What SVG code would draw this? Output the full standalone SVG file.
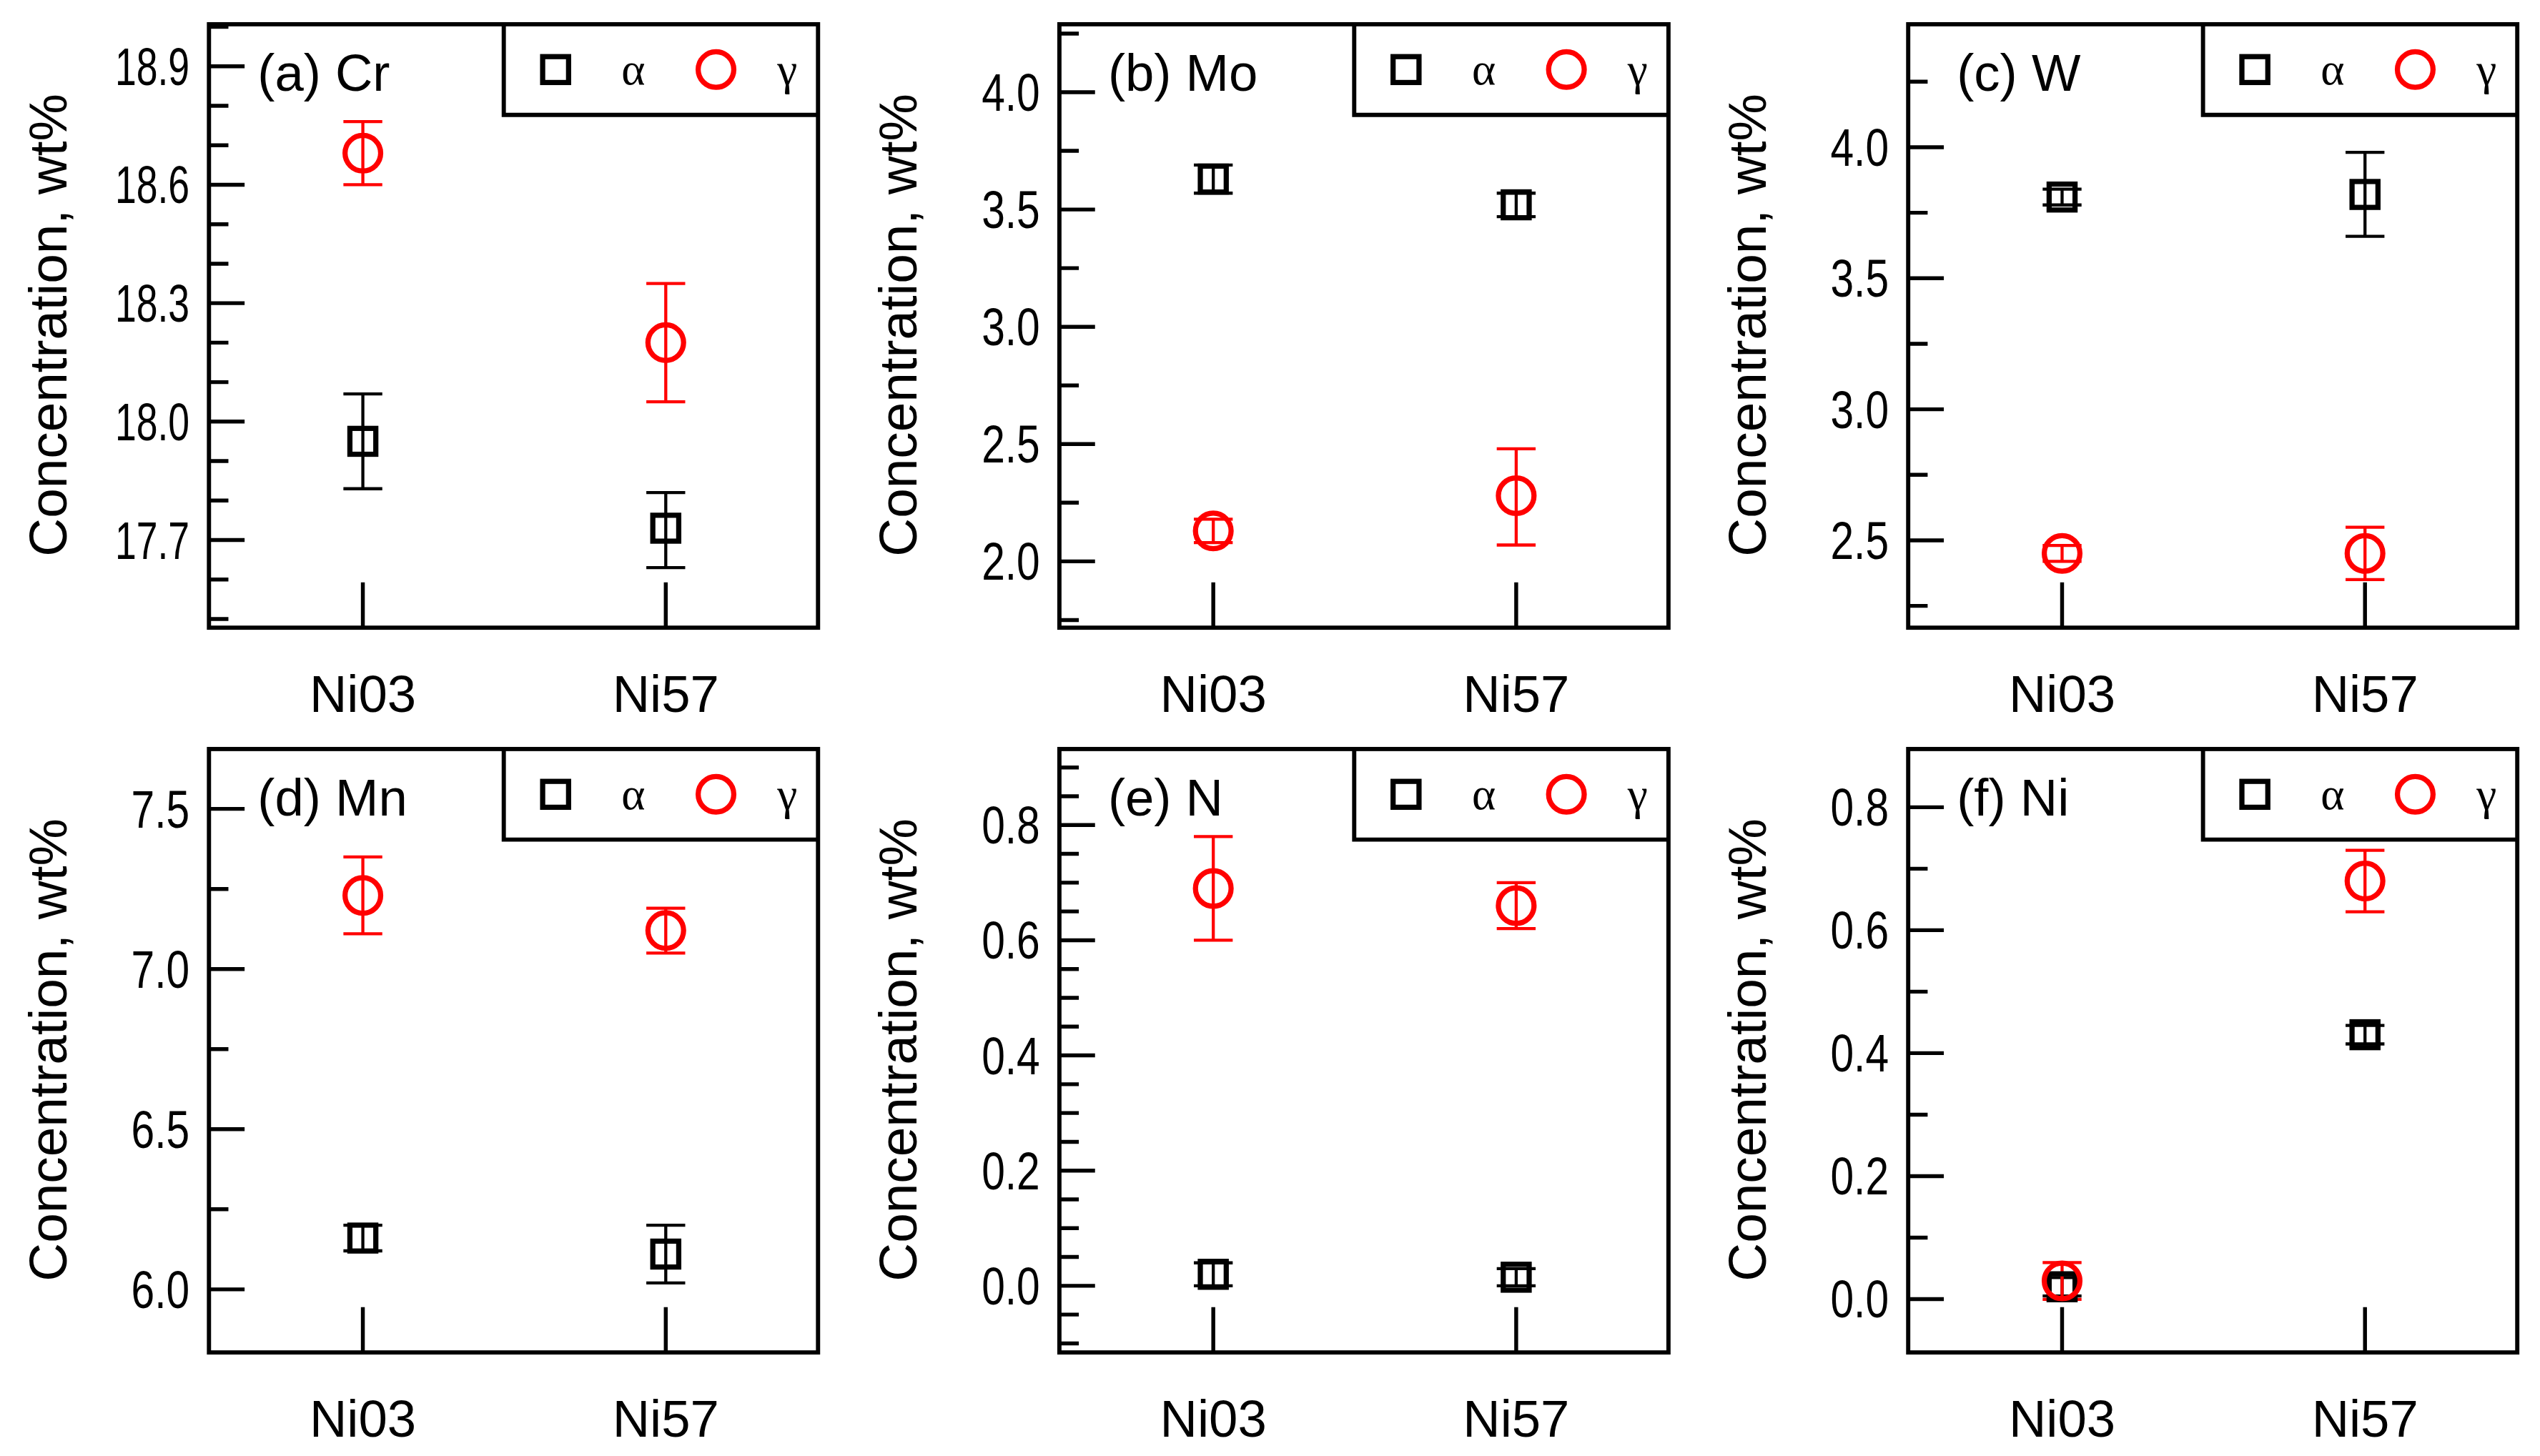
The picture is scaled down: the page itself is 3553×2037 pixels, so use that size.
<svg xmlns="http://www.w3.org/2000/svg" xmlns:xlink="http://www.w3.org/1999/xlink" width="3553" height="2037" viewBox="0 0 3553 2037">
<style>
text{font-family:"Liberation Sans",Arial,sans-serif;fill:#000}
.tl{font-size:33px;text-anchor:end}
.cl{font-size:32px;text-anchor:middle}
.pl{font-size:32px}
.yt{font-size:33px;text-anchor:middle}
.gr{font-family:"Liberation Serif","Times New Roman",serif;font-size:28px;text-anchor:middle}
.fr{fill:none;stroke:#000;stroke-width:2.6}
.tk{stroke:#000;stroke-width:2.4;fill:none}
.eb{stroke:#000;stroke-width:1.9;fill:none}
.ebr{stroke:#f00;stroke-width:1.9;fill:none}
.sq{fill:none;stroke:#000;stroke-width:3.2}
.ci{fill:none;stroke:#f00;stroke-width:3.2}
</style>
<defs>
<rect id="sq" class="sq" x="-8" y="-8" width="16" height="16"/>
<circle id="ci" class="ci" r="11"/>
<g id="frame">
<rect class="fr" x="0" y="0" width="376" height="373"/>
<path class="fr" d="M182 0 V56 H376"/>
<use xlink:href="#sq" x="214" y="28"/>
<text class="gr" x="262" y="37">α</text>
<use xlink:href="#ci" x="313" y="28"/>
<text class="gr" x="357" y="37">γ</text>
<path class="tk" d="M95 373 V345 M282 373 V345"/>
<text class="cl" x="95" y="425">Ni03</text>
<text class="cl" x="282" y="425">Ni57</text>
<text class="yt" transform="translate(-88,186) rotate(-90)">Concentration, wt%</text>
</g>
</defs>
<g transform="scale(2.2659,2.2633)">
<g id="panel-a" transform="translate(129,15)">
<use xlink:href="#frame"/>
<text class="pl" x="30" y="41">(a) Cr</text>
<path class="tk" d="M0 26H22M0 99.2H22M0 172.4H22M0 245.6H22M0 318.8H22M0 50.4H12M0 74.8H12M0 123.6H12M0 148H12M0 196.8H12M0 221.2H12M0 270H12M0 294.4H12M0 343.2H12M0 367.6H12M0 1.6H12"/>
<text class="tl" x="-12" y="37.5" textLength="46" lengthAdjust="spacingAndGlyphs">18.9</text><text class="tl" x="-12" y="110.7" textLength="46" lengthAdjust="spacingAndGlyphs">18.6</text><text class="tl" x="-12" y="183.9" textLength="46" lengthAdjust="spacingAndGlyphs">18.3</text><text class="tl" x="-12" y="257.1" textLength="46" lengthAdjust="spacingAndGlyphs">18.0</text><text class="tl" x="-12" y="330.3" textLength="46" lengthAdjust="spacingAndGlyphs">17.7</text>
<path class="ebr" d="M83 60.2H107M95 60.2V99.2M83 99.2H107M270 160.2H294M282 160.2V233.4M270 233.4H294"/>
<path class="eb" d="M83 228.5H107M95 228.5V287.1M83 287.1H107M270 289.5H294M282 289.5V335.9M270 335.9H294"/>
<use xlink:href="#ci" x="95" y="79.7"/><use xlink:href="#ci" x="282" y="196.8"/>
<use xlink:href="#sq" x="95" y="257.8"/><use xlink:href="#sq" x="282" y="311.5"/>
</g>
<g id="panel-b" transform="translate(654,15)">
<use xlink:href="#frame"/>
<text class="pl" x="30" y="41">(b) Mo</text>
<path class="tk" d="M0 42H22M0 114.5H22M0 187H22M0 259.5H22M0 332H22M0 5.75H12M0 78.25H12M0 150.75H12M0 223.25H12M0 295.75H12M0 368.25H12"/>
<text class="tl" x="-12" y="53.5" textLength="36" lengthAdjust="spacingAndGlyphs">4.0</text><text class="tl" x="-12" y="126" textLength="36" lengthAdjust="spacingAndGlyphs">3.5</text><text class="tl" x="-12" y="198.5" textLength="36" lengthAdjust="spacingAndGlyphs">3.0</text><text class="tl" x="-12" y="271" textLength="36" lengthAdjust="spacingAndGlyphs">2.5</text><text class="tl" x="-12" y="343.5" textLength="36" lengthAdjust="spacingAndGlyphs">2.0</text>
<path class="eb" d="M83 87H107M95 87V104.4M83 104.4H107M270 104.4H294M282 104.4V118.9M270 118.9H294"/>
<path class="ebr" d="M83 305.9H107M95 305.9V320.4M83 320.4H107M270 262.4H294M282 262.4V321.9M270 321.9H294"/>
<use xlink:href="#sq" x="95" y="95.7"/><use xlink:href="#sq" x="282" y="111.6"/>
<use xlink:href="#ci" x="95" y="313.2"/><use xlink:href="#ci" x="282" y="291.4"/>
</g>
<g id="panel-c" transform="translate(1178,15)">
<use xlink:href="#frame"/>
<text class="pl" x="30" y="41">(c) W</text>
<path class="tk" d="M0 76H22M0 157H22M0 238H22M0 319H22M0 35.5H12M0 116.5H12M0 197.5H12M0 278.5H12M0 359.5H12"/>
<text class="tl" x="-12" y="87.5" textLength="36" lengthAdjust="spacingAndGlyphs">4.0</text><text class="tl" x="-12" y="168.5" textLength="36" lengthAdjust="spacingAndGlyphs">3.5</text><text class="tl" x="-12" y="249.5" textLength="36" lengthAdjust="spacingAndGlyphs">3.0</text><text class="tl" x="-12" y="330.5" textLength="36" lengthAdjust="spacingAndGlyphs">2.5</text>
<path class="eb" d="M83 101.9H107M95 101.9V111.7M83 111.7H107M270 79.2H294M282 79.2V131.1M270 131.1H294"/>
<path class="ebr" d="M83 322.2H107M95 322.2V332M83 332H107M270 310.9H294M282 310.9V343.3M270 343.3H294"/>
<use xlink:href="#sq" x="95" y="106.8"/><use xlink:href="#sq" x="282" y="105.2"/>
<use xlink:href="#ci" x="95" y="327.1"/><use xlink:href="#ci" x="282" y="327.1"/>
</g>
<g id="panel-d" transform="translate(129,463)">
<use xlink:href="#frame"/>
<text class="pl" x="30" y="41">(d) Mn</text>
<path class="tk" d="M0 37H22M0 136H22M0 235H22M0 334H22M0 86.5H12M0 185.5H12M0 284.5H12"/>
<text class="tl" x="-12" y="48.5" textLength="36" lengthAdjust="spacingAndGlyphs">7.5</text><text class="tl" x="-12" y="147.5" textLength="36" lengthAdjust="spacingAndGlyphs">7.0</text><text class="tl" x="-12" y="246.5" textLength="36" lengthAdjust="spacingAndGlyphs">6.5</text><text class="tl" x="-12" y="345.5" textLength="36" lengthAdjust="spacingAndGlyphs">6.0</text>
<path class="ebr" d="M83 66.7H107M95 66.7V114.2M83 114.2H107M270 98.4H294M282 98.4V126.1M270 126.1H294"/>
<path class="eb" d="M83 294.4H107M95 294.4V310.2M83 310.2H107M270 294.4H294M282 294.4V330M270 330H294"/>
<use xlink:href="#ci" x="95" y="90.5"/><use xlink:href="#ci" x="282" y="112.2"/>
<use xlink:href="#sq" x="95" y="302.3"/><use xlink:href="#sq" x="282" y="312.2"/>
</g>
<g id="panel-e" transform="translate(654,463)">
<use xlink:href="#frame"/>
<text class="pl" x="30" y="41">(e) N</text>
<path class="tk" d="M0 47H22M0 118.2H22M0 189.4H22M0 260.6H22M0 331.8H22M0 11.4H12M0 29.2H12M0 64.8H12M0 82.6H12M0 100.4H12M0 136H12M0 153.8H12M0 171.6H12M0 207.2H12M0 225H12M0 242.8H12M0 278.4H12M0 296.2H12M0 314H12M0 349.6H12M0 367.4H12"/>
<text class="tl" x="-12" y="58.5" textLength="36" lengthAdjust="spacingAndGlyphs">0.8</text><text class="tl" x="-12" y="129.7" textLength="36" lengthAdjust="spacingAndGlyphs">0.6</text><text class="tl" x="-12" y="200.9" textLength="36" lengthAdjust="spacingAndGlyphs">0.4</text><text class="tl" x="-12" y="272.1" textLength="36" lengthAdjust="spacingAndGlyphs">0.2</text><text class="tl" x="-12" y="343.3" textLength="36" lengthAdjust="spacingAndGlyphs">0.0</text>
<path class="ebr" d="M83 54.1H107M95 54.1V118.2M83 118.2H107M270 82.6H294M282 82.6V111M270 111H294"/>
<path class="eb" d="M83 317.6H107M95 317.6V331.8M83 331.8H107M270 321.2H294M282 321.2V331.8M270 331.8H294"/>
<use xlink:href="#ci" x="95" y="86.2"/><use xlink:href="#ci" x="282" y="96.8"/>
<use xlink:href="#sq" x="95" y="324.7"/><use xlink:href="#sq" x="282" y="326.5"/>
</g>
<g id="panel-f" transform="translate(1178,463)">
<use xlink:href="#frame"/>
<text class="pl" x="30" y="41">(f) Ni</text>
<path class="tk" d="M0 36H22M0 112H22M0 188H22M0 264H22M0 340H22M0 74H12M0 150H12M0 226H12M0 302H12"/>
<text class="tl" x="-12" y="47.5" textLength="36" lengthAdjust="spacingAndGlyphs">0.8</text><text class="tl" x="-12" y="123.5" textLength="36" lengthAdjust="spacingAndGlyphs">0.6</text><text class="tl" x="-12" y="199.5" textLength="36" lengthAdjust="spacingAndGlyphs">0.4</text><text class="tl" x="-12" y="275.5" textLength="36" lengthAdjust="spacingAndGlyphs">0.2</text><text class="tl" x="-12" y="351.5" textLength="36" lengthAdjust="spacingAndGlyphs">0.0</text>
<path class="eb" d="M83 326.7H107M95 326.7V338.1M83 338.1H107M270 170.9H294M282 170.9V182.3M270 182.3H294"/>
<path class="ebr" d="M83 317.4H107M95 317.4V340.2M83 340.2H107M270 62.6H294M282 62.6V100.6M270 100.6H294"/>
<use xlink:href="#sq" x="95" y="332.4"/><use xlink:href="#sq" x="282" y="176.6"/>
<use xlink:href="#ci" x="95" y="328.8"/><use xlink:href="#ci" x="282" y="81.6"/>
</g>
</g>
</svg>
